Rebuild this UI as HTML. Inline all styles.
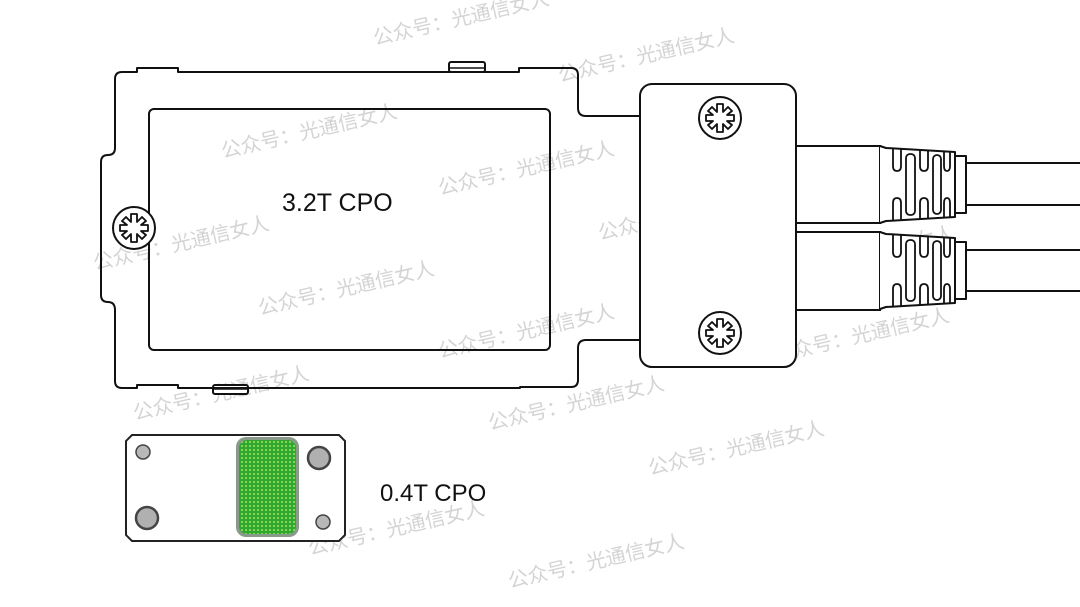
<!DOCTYPE html>
<html><head><meta charset="utf-8"><style>
html,body{margin:0;padding:0;background:#fff;}
svg{display:block;}
.wm{font-family:"Liberation Sans","Noto Sans CJK SC",sans-serif;font-size:20px;fill:#d4d4d4;}
</style></head><body>
<svg width="1080" height="607" viewBox="0 0 1080 607" xmlns="http://www.w3.org/2000/svg">
<defs>
<pattern id="dots" width="4" height="4" patternUnits="userSpaceOnUse"><rect width="4" height="4" fill="#2ea82e"/><circle cx="2" cy="2" r="0.9" fill="#c8f070"/></pattern>
<g id="screw">
<circle r="21" fill="#fff" stroke="#111" stroke-width="2"/>
<path d="M-3,-14 L3,-14 L3,-6 L8,-11 L12,-7 L7,-3 L14,-3 L14,3 L7,3 L12,7 L8,11 L3,6 L3,14 L-3,14 L-3,6 L-8,11 L-12,7 L-7,3 L-14,3 L-14,-3 L-7,-3 L-12,-7 L-8,-11 L-3,-6 Z" fill="none" stroke="#111" stroke-width="1.8" stroke-linejoin="round"/>
</g>
<g id="boot" fill="none" stroke="#111" stroke-width="1.8" stroke-linejoin="round">
<path d="M0,0 L6,2 L75,6 L75,71 L6,75 L0,77" fill="#fff" stroke-width="2"/>
<!-- top notches -->
<path d="M13,2.5 L13,20 Q13,25 17,25 Q21,25 21,20 L21,3"/>
<path d="M40,4 L40,20 Q40,25 44,25 Q48,25 48,20 L48,4.5"/>
<path d="M64,5.5 L64,20 Q64,25 67,25 Q70,25 70,20 L70,5.8"/>
<!-- bottom notches -->
<path d="M13,74.5 L13,57 Q13,52 17,52 Q21,52 21,57 L21,74"/>
<path d="M40,73 L40,57 Q40,52 44,52 Q48,52 48,57 L48,72.5"/>
<path d="M64,71.5 L64,57 Q64,52 67,52 Q70,52 70,57 L70,71.2"/>
<!-- slots -->
<rect x="26" y="8" width="9" height="61" rx="4"/>
<rect x="53" y="9" width="8" height="59" rx="4"/>
<rect x="75" y="10" width="11" height="57" fill="#fff" stroke-width="2"/>
</g>
</defs>

<g class="wm">
<text transform="translate(375,45) rotate(-13)">公众号：光通信女人</text>
<text transform="translate(560,82) rotate(-13)">公众号：光通信女人</text>
<text transform="translate(223,158) rotate(-13)">公众号：光通信女人</text>
<text transform="translate(440,195) rotate(-13)">公众号：光通信女人</text>
<text transform="translate(600,240) rotate(-13)">公众号：光通信女人</text>
<text transform="translate(95,270) rotate(-13)">公众号：光通信女人</text>
<text transform="translate(260,315) rotate(-13)">公众号：光通信女人</text>
<text transform="translate(780,280) rotate(-13)">公众号：光通信女人</text>
<text transform="translate(440,358) rotate(-13)">公众号：光通信女人</text>
<text transform="translate(775,362) rotate(-13)">公众号：光通信女人</text>
<text transform="translate(135,420) rotate(-13)">公众号：光通信女人</text>
<text transform="translate(490,430) rotate(-13)">公众号：光通信女人</text>
<text transform="translate(650,475) rotate(-13)">公众号：光通信女人</text>
<text transform="translate(150,505) rotate(-13)">公众号：光通信女人</text>
<text transform="translate(310,555) rotate(-13)">公众号：光通信女人</text>
<text transform="translate(510,588) rotate(-13)">公众号：光通信女人</text>
</g>

<rect x="449" y="62" width="36" height="10" rx="2" fill="#fff" stroke="#111" stroke-width="2"/>
<line x1="449" y1="68" x2="485" y2="68" stroke="#111" stroke-width="1.5"/>
<rect x="213" y="385" width="35" height="9" rx="2" fill="#fff" stroke="#111" stroke-width="2"/>
<line x1="213" y1="389" x2="248" y2="389" stroke="#111" stroke-width="1.5"/>

<path d="M122,72 L137,72 L137,68 L178,68 L178,72 L519,72 L519,68 L571,68 Q578,68 578,75 L578,108 Q578,116 586,116 L640,116" fill="none" stroke="#111" stroke-width="2" stroke-linejoin="round"/>
<path d="M640,340 L586,340 Q578,340 578,348 L578,380 Q578,387 571,387 L520,387 L520,388 L178,388 L178,385 L137,385 L137,388 L122,388 Q115,388 115,381 L115,310 Q115,302 108,302 Q101,302 101,295 L101,162 Q101,155 108,155 Q115,155 115,148 L115,79 Q115,72 122,72" fill="none" stroke="#111" stroke-width="2" stroke-linejoin="round"/>
<rect x="149" y="109" width="401" height="241" rx="5" fill="none" stroke="#111" stroke-width="2"/>
<text x="282" y="211" font-family="Liberation Sans, sans-serif" font-size="25" fill="#111">3.2T CPO</text>
<use href="#screw" x="134" y="228"/>

<line x1="966" y1="163" x2="1080" y2="163" stroke="#111" stroke-width="2"/>
<line x1="966" y1="205" x2="1080" y2="205" stroke="#111" stroke-width="2"/>
<line x1="966" y1="250" x2="1080" y2="250" stroke="#111" stroke-width="2"/>
<line x1="966" y1="291" x2="1080" y2="291" stroke="#111" stroke-width="2"/>
<rect x="796" y="146" width="84" height="77" fill="#fff" stroke="#111" stroke-width="2"/>
<rect x="796" y="232" width="84" height="78" fill="#fff" stroke="#111" stroke-width="2"/>
<use href="#boot" x="880" y="146"/>
<use href="#boot" x="880" y="232"/>

<rect x="640" y="84" width="156" height="283" rx="12" fill="#fff" stroke="#111" stroke-width="2"/>
<use href="#screw" x="720" y="118"/>
<use href="#screw" x="720" y="333"/>

<path d="M132,435 L339,435 L345,441 L345,535 L339,541 L132,541 L126,535 L126,441 Z" fill="#fff" stroke="#222" stroke-width="2"/>
<rect x="236" y="437" width="63" height="100" rx="10" fill="#8a9a8a"/>
<rect x="239" y="440" width="57" height="94" rx="8" fill="url(#dots)"/>
<circle cx="143" cy="452" r="7" fill="#b8b8b8" stroke="#444" stroke-width="1.5"/>
<circle cx="319" cy="458" r="11" fill="#b0b0b0" stroke="#444" stroke-width="2.5"/>
<circle cx="147" cy="518" r="11" fill="#b0b0b0" stroke="#444" stroke-width="2.5"/>
<circle cx="323" cy="522" r="7" fill="#b8b8b8" stroke="#444" stroke-width="1.5"/>
<text x="380" y="501" font-family="Liberation Sans, sans-serif" font-size="24" fill="#111">0.4T CPO</text>
</svg>
</body></html>
